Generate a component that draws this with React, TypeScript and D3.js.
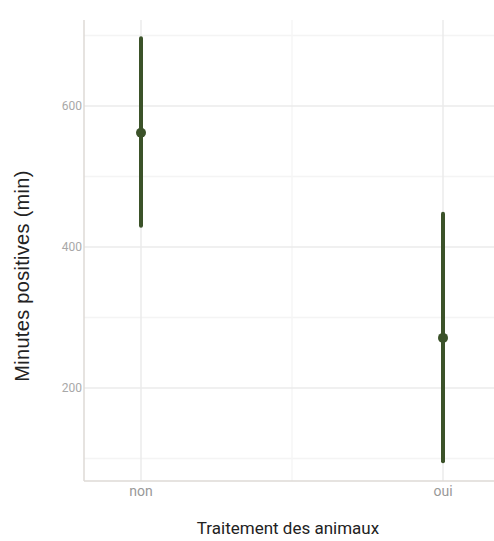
import React from "react";
import * as d3 from "d3";

const categories = ["non", "oui"];
const means = [562, 271];
const lows = [430, 96];
const highs = [696, 447];
const yTicks = [200, 400, 600];
const yMinor = [100, 300, 500, 700];

const W = 494, H = 541;
const left = 84, right = 494, top = 20, bottom = 481;

export default function App() {
  const y = d3.scaleLinear().domain([68, 722]).range([bottom, top]);
  const x = d3.scalePoint<string>().domain(categories).range([141, 443]);
  const mid = ((x("non") as number) + (x("oui") as number)) / 2;
  const color = "#3b5229";
  return (
    <svg width={W} height={H} style={{ position: "absolute", left: 0, top: 0 }} fontFamily="Roboto, Arial, sans-serif">
      <rect width={W} height={H} fill="#fff" />
      {yMinor.map((t) => (
        <line key={"m" + t} x1={left} x2={right} y1={y(t)} y2={y(t)} stroke="#f4f4f4" strokeWidth={1.5} />
      ))}
      <line x1={mid} x2={mid} y1={top} y2={bottom} stroke="#f6f6f6" strokeWidth={1.5} />
      {yTicks.map((t) => (
        <line key={"g" + t} x1={left} x2={right} y1={y(t)} y2={y(t)} stroke="#ebebeb" strokeWidth={1.5} />
      ))}
      {categories.map((c) => (
        <line key={"v" + c} x1={x(c)} x2={x(c)} y1={top} y2={bottom} stroke="#ebebeb" strokeWidth={1.5} />
      ))}
      <line x1={left} x2={left} y1={top} y2={bottom} stroke="#dedad6" strokeWidth={1.5} />
      <line x1={left} x2={right} y1={bottom} y2={bottom} stroke="#dedad6" strokeWidth={1.5} />
      {yTicks.map((t) => (
        <text key={"t" + t} x={left - 2} y={y(t)} dy="0.35em" textAnchor="end" fontSize={12} fill="#a8a8a8">{t}</text>
      ))}
      {categories.map((c) => (
        <text key={"c" + c} x={x(c)} y={bottom + 15} textAnchor="middle" fontSize={14} fill="#999">{c}</text>
      ))}
      {categories.map((c, i) => (
        <g key={"d" + c}>
          <line x1={x(c)} x2={x(c)} y1={y(lows[i])} y2={y(highs[i])} stroke={color} strokeWidth={4} strokeLinecap="round" />
          <circle cx={x(c)} cy={y(means[i])} r={5} fill={color} />
        </g>
      ))}
      <text x={288} y={534} textAnchor="middle" fontSize={17} fill="#222">Traitement des animaux</text>
      <text transform={`translate(29,${276}) rotate(-90)`} textAnchor="middle" fontSize={20} letterSpacing={0.3} fill="#222" fontFamily="'Liberation Sans', Arial, sans-serif">Minutes positives (min)</text>
    </svg>
  );
}
